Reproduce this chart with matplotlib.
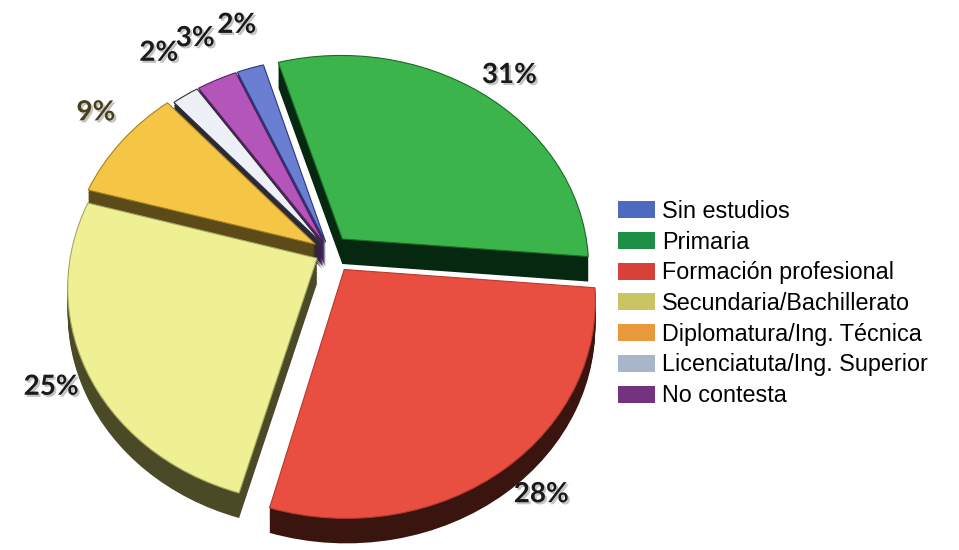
import matplotlib.pyplot as plt
import matplotlib.patheffects as pe
from matplotlib.patches import Patch
from matplotlib.transforms import Transform, Affine2D
import numpy as np

# Nivel de estudios (%)
categorias = ['Sin estudios', 'Primaria', 'Formación profesional',
              'Secundaria/Bachillerato', 'Diplomatura/Ing. Técnica',
              'Licenciatuta/Ing. Superior', 'No contesta']
porcentajes = [2, 31, 28, 25, 9, 2, 3]

separacion = [0.05, 0.08, 0.10, 0.06, 0.07, 0.05, 0.05]
colores_cara = ['#6a7fd2', '#3cb44c', '#e84f41', '#eef093', '#f5c546', '#eef0f8', '#b455b9']
colores_lado = ['#26306a', '#072810', '#3a150f', '#4b4a27', '#5c4a19', '#2a2a36', '#4a1b50']
colores_borde = ['#2e3a80', '#1c6a28', '#b83a30', '#a8a860', '#a88220', '#30303c', '#5a2060']
colores_leyenda = ['#4e6ac0', '#1f8f48', '#d8403a', '#c9c563', '#e9993a', '#a9b5c9', '#74337f']


class Perspectiva(Transform):
    """Tarta unitaria vista inclinada: el lado lejano (arriba) se encoge."""
    input_dims = output_dims = 2

    def __init__(self, cx, cy, a, b, k):
        super().__init__()
        self.cx, self.cy, self.a, self.b, self.k = cx, cy, a, b, k

    def transform_non_affine(self, values):
        v = np.asarray(values, dtype=float)
        x, y = v[:, 0], v[:, 1]
        q = 1 + self.k * y
        return np.column_stack([self.cx + self.b * x / q, self.cy + self.a * y / q])


W, H = 959, 550
fig = plt.figure(figsize=(W / 100, H / 100), dpi=100)
ax = fig.add_axes([0, 0, 1, 1])

persp = Perspectiva(cx=330, cy=H - 252, a=211, b=246, k=0.132)
inicio = 114

# grosor de la tarta: capas oscuras desplazadas hacia abajo
profundidad = 25
for d in np.linspace(profundidad, 1, 14):
    lado, _ = ax.pie(porcentajes, explode=separacion, colors=colores_lado, startangle=inicio,
                     counterclock=False, wedgeprops=dict(linewidth=0))
    for w in lado:
        w.set_transform(persp + Affine2D().translate(0, -d) + ax.transData)

cuñas, _ = ax.pie(porcentajes, explode=separacion, colors=colores_cara, startangle=inicio,
                  counterclock=False, wedgeprops=dict(linewidth=0.8))
for w, c in zip(cuñas, colores_borde):
    w.set_edgecolor(c)
    w.set_transform(persp + ax.transData)

ax.set_xlim(0, W)
ax.set_ylim(0, H)
ax.set_aspect('auto')
ax.axis('off')

# etiquetas de porcentaje
fracs = np.array(porcentajes) / sum(porcentajes)
theta_ini = inicio - 360 * np.concatenate([[0], np.cumsum(fracs)[:-1]])
theta_mid = theta_ini - 180 * fracs
dist_etiqueta = [1.33, 1.25, 1.245, 1.2, 1.27, 1.34, 1.33]
giro = [-1, -2, 2, 0, -3, -2, -1]
color_texto = ['#1a1a1a', '#1a1a1a', '#1a1a1a', '#1a1a1a', '#4a3f1a', '#1a1a1a', '#1a1a1a']
sombra = [pe.withSimplePatchShadow(offset=(1.5, -1.5), shadow_rgbFace='#888888', alpha=0.5)]
for p, t, r, g, c in zip(porcentajes, theta_mid, dist_etiqueta, giro, color_texto):
    ang = np.radians(t + g)
    ax.text(r * np.cos(ang), r * np.sin(ang), f'{p}%', ha='center', va='center',
            fontsize=20, fontweight='bold', family='Lato', color=c, path_effects=sombra,
            transform=persp + ax.transData)

handles = [Patch(facecolor=c, edgecolor='none') for c in colores_leyenda]
fig.legend(handles, categorias, loc='upper left', bbox_to_anchor=(618 / W, 1 - 200 / H),
           frameon=False, prop={'family': 'Liberation Sans', 'size': 16.8},
           handlelength=1.6, handleheight=0.74, handletextpad=0.3, labelspacing=0.33,
           borderpad=0, borderaxespad=0)

fig.savefig('out.png', dpi=100, facecolor='white')
